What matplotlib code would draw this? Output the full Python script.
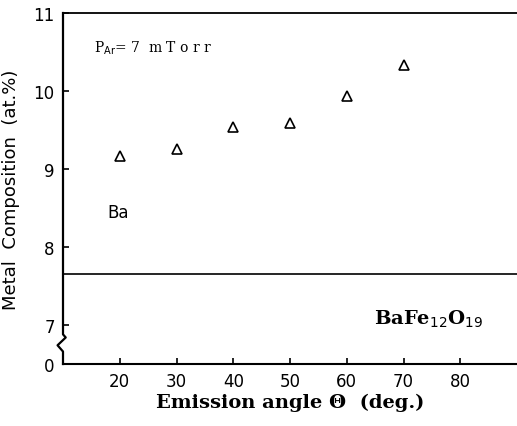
import matplotlib
matplotlib.use("Agg")
import matplotlib.pyplot as plt
import matplotlib.transforms as mtransforms

# data
angles = [20, 30, 40, 50, 60, 70]
ba_comp = [9.17, 9.26, 9.54, 9.59, 9.94, 10.33]
bulk_level = 7.65  # BaFe12O19 stoichiometric value
x_ticks = [20, 30, 40, 50, 60, 70, 80]
y_ticks = [6.5, 7, 8, 9, 10, 11]
y_tick_labels = ["0", "7", "8", "9", "10", "11"]

fig = plt.figure(figsize=(5.17, 4.27), dpi=100)
ax = fig.add_axes([63 / 517, 62 / 427, 1 - 63 / 517, 351 / 427])

ax.plot(angles, ba_comp, linestyle="none", marker="^", markersize=7.5,
        markerfacecolor="white", markeredgecolor="black", markeredgewidth=1.2)
ax.axhline(bulk_level, color="black", linewidth=1.2)

ax.set_xlim(10, 90)
ax.set_ylim(6.5, 11)
ax.set_xticks(x_ticks)
ax.set_yticks(y_ticks)
ax.set_yticklabels(y_tick_labels)
ax.tick_params(direction="in", length=4, width=1.2, labelsize=12, pad=6)

ax.spines["right"].set_visible(False)
ax.spines["top"].set_linewidth(1.3)
ax.spines["bottom"].set_linewidth(1.5)
ax.spines["left"].set_visible(False)

# left spine with axis-break zigzag
trans = mtransforms.blended_transform_factory(ax.transAxes, ax.transData)
bx = [0, 0, 0.006, -0.012, 0, 0]
by = [11, 6.88, 6.84, 6.74, 6.66, 6.5]
ax.plot(bx, by, color="black", linewidth=1.6, transform=trans, clip_on=False)

ax.set_ylabel("Metal  Composition  (at.%)", fontsize=13, labelpad=10)
ax.set_xlabel("Emission angle \u0398  (deg.)", fontsize=14, fontweight="bold",
              family="DejaVu Serif", labelpad=2)

ax.text(15.5, 10.56, r"P$_{\rm Ar}$= 7  m T o r r", fontsize=10,
        family="DejaVu Serif", va="center")
ax.text(17.8, 8.45, "Ba", fontsize=12, va="center")
ax.text(64.8, 7.08, r"BaFe$_{12}$O$_{19}$", fontsize=14, fontweight="bold",
        family="DejaVu Serif", va="center")

fig.savefig("out.png", dpi=100)
